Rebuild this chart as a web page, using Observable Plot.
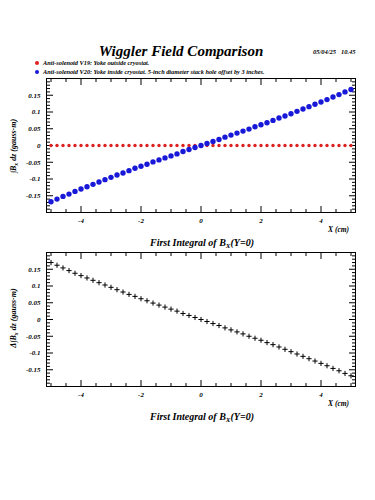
<!DOCTYPE html>
<html>
<head>
<meta charset="utf-8">
<script src="https://cdn.jsdelivr.net/npm/d3@7"></script>
<script src="https://cdn.jsdelivr.net/npm/@observablehq/plot@0.6"></script>
<style>
  body { margin: 0; background: #fff; }
  #page { position: relative; width: 375px; height: 500px; background: #fff; overflow: hidden;
          font-family: "Liberation Serif", "DejaVu Serif", serif; font-style: italic; font-weight: bold; color: #000; }
  .abs { position: absolute; white-space: nowrap; }
  .rot { transform: translate(-50%, -50%) rotate(-90deg); }
  sub { font-size: 0.7em; vertical-align: -0.25em; }
</style>
</head>
<body>
<div id="page">
  <div id="p1" class="abs" style="left:0;top:70px"></div>
  <div id="p2" class="abs" style="left:0;top:244px"></div>

  <div class="abs" style="left:181px;top:43px;font-size:15px;line-height:16px;transform:translateX(-50%)">Wiggler Field Comparison</div>
  <div class="abs" style="left:313px;top:48px;font-size:6.5px;line-height:7px">05/04/25&nbsp;&nbsp;&nbsp;10.45</div>
  <div class="abs" style="left:35px;top:61px;width:4px;height:4px;border-radius:2px;background:#dd2020"></div>
  <div class="abs" style="left:43px;top:59px;font-size:6.3px;line-height:7px">Anti-solenoid V19: Yoke outside cryostat.</div>
  <div class="abs" style="left:35px;top:70px;width:4px;height:4px;border-radius:2px;background:#1818d8"></div>
  <div class="abs" style="left:43px;top:68px;font-size:6.3px;line-height:7px">Anti-solenoid V20: Yoke inside cryostat. 5-inch diameter stack hole offset by 3 inches.</div>

  <div class="abs rot" style="left:14px;top:146px;font-size:8px">∫B<sub>x</sub> dz (gauss-m)</div>
  <div class="abs" style="left:328px;top:226px;font-size:7.5px;line-height:8px">X (cm)</div>
  <div class="abs" style="left:202px;top:237px;font-size:10px;line-height:11px;transform:translateX(-50%)">First Integral of B<sub>X</sub>(Y=0)</div>

  <div class="abs rot" style="left:14px;top:318px;font-size:8px">Δ∫B<sub>x</sub> dz (gauss-m)</div>
  <div class="abs" style="left:328px;top:400px;font-size:7.5px;line-height:8px">X (cm)</div>
  <div class="abs" style="left:202px;top:411px;font-size:10px;line-height:11px;transform:translateX(-50%)">First Integral of B<sub>X</sub>(Y=0)</div>
</div>
<script>
// ---- data ----
const xPos = [-5,-4.8,-4.6,-4.4,-4.2,-4,-3.8,-3.6,-3.4,-3.2,-3,-2.8,-2.6,-2.4,-2.2,-2,-1.8,-1.6,-1.4,-1.2,-1,-0.8,-0.6,-0.4,-0.2,0,
              0.2,0.4,0.6,0.8,1,1.2,1.4,1.6,1.8,2,2.2,2.4,2.6,2.8,3,3.2,3.4,3.6,3.8,4,4.2,4.4,4.6,4.8,5];
const v19 = new Array(51).fill(0);
const v20 = [-0.168,-0.160,-0.152,-0.145,-0.137,-0.130,-0.123,-0.116,-0.109,-0.102,-0.095,-0.088,-0.082,-0.075,-0.068,-0.062,-0.056,-0.049,-0.043,-0.037,-0.031,-0.025,-0.018,-0.012,-0.006,0.000,
             0.006,0.012,0.018,0.025,0.031,0.037,0.043,0.049,0.056,0.062,0.068,0.075,0.082,0.088,0.095,0.102,0.109,0.116,0.123,0.130,0.137,0.145,0.152,0.160,0.167];
const diff = [0.170,0.162,0.154,0.146,0.138,0.131,0.124,0.117,0.110,0.103,0.096,0.089,0.082,0.075,0.069,0.062,0.056,0.049,0.043,0.037,0.031,0.025,0.018,0.012,0.006,0.000,
              -0.006,-0.012,-0.018,-0.025,-0.031,-0.037,-0.043,-0.050,-0.056,-0.062,-0.069,-0.075,-0.082,-0.089,-0.096,-0.103,-0.110,-0.117,-0.124,-0.131,-0.138,-0.146,-0.153,-0.161,-0.168];
const xMajor = [-4,-2,0,2,4];
const xLabels = ["-4","-2","0","2","4"];
const xMinor = [-5,-4.5,-3.5,-3,-2.5,-1.5,-1,-0.5,0.5,1,1.5,2.5,3,3.5,4.5,5];
const yMajor = [-0.15,-0.1,-0.05,0,0.05,0.1,0.15];
const yLabels = ["-0.15","-0.1","-0.05","0","0.05","0.1","0.15"];
const yMinor = d3.range(-20,21).map(i => i/100).filter(v => Math.round(v*100) % 5 !== 0);
const xDomain = [-5.15, 5.15];
const yDomain = [-0.2, 0.2];

const topData = xPos.map((x,i) => ({x, v19: v19[i], v20: v20[i]}));
const botData = xPos.map((x,i) => ({x, d: diff[i]}));

function frameTicks() {
  const fmtX = d => xLabels[xMajor.indexOf(d)];
  const fmtY = d => yLabels[yMajor.findIndex(v => Math.abs(v-d) < 1e-9)];
  return [
    Plot.frame({stroke: "black", strokeWidth: 1}),
    Plot.axisX({anchor: "bottom", ticks: xMajor, tickSize: 6, dy: -6, text: null, label: null}),
    Plot.axisX({anchor: "bottom", ticks: xMinor, tickSize: 3, dy: -3, text: null, label: null}),
    Plot.axisX({anchor: "top", ticks: xMajor, tickSize: 6, dy: 6, text: null, label: null}),
    Plot.axisX({anchor: "top", ticks: xMinor, tickSize: 3, dy: 3, text: null, label: null}),
    Plot.axisX({anchor: "bottom", ticks: xMajor, tickSize: 0, tickPadding: 6, tickFormat: fmtX, label: null}),
    Plot.axisY({anchor: "left", ticks: yMajor, tickSize: 7, dx: 7, text: null, label: null}),
    Plot.axisY({anchor: "left", ticks: yMinor, tickSize: 4, dx: 4, text: null, label: null}),
    Plot.axisY({anchor: "right", ticks: yMajor, tickSize: 7, dx: -7, text: null, label: null}),
    Plot.axisY({anchor: "right", ticks: yMinor, tickSize: 4, dx: -4, text: null, label: null}),
    Plot.axisY({anchor: "left", ticks: yMajor, tickSize: 0, tickPadding: 6, tickFormat: fmtY, label: null})
  ];
}

const common = {
  width: 375, height: 180,
  marginLeft: 46, marginRight: 20, marginTop: 8, marginBottom: 38,
  x: {domain: xDomain, label: null},
  y: {domain: yDomain, label: null},
  style: {fontFamily: "Liberation Serif", fontStyle: "italic", fontWeight: "bold", fontSize: "7px", background: "transparent", overflow: "visible"}
};

const p1 = Plot.plot({
  ...common,
  marks: [
    ...frameTicks(),
    Plot.dot(topData, {x: "x", y: "v19", r: 1.7, fill: "#dd2020", stroke: "none"}),
    Plot.dot(topData, {x: "x", y: "v20", r: 2.7, fill: "#1818d8", stroke: "none"})
  ]
});
document.getElementById("p1").appendChild(p1);

const p2 = Plot.plot({
  ...common,
  marks: [
    ...frameTicks(),
    Plot.dot(botData, {x: "x", y: "d", r: 1.8, symbol: "plus", stroke: "black", strokeWidth: 1})
  ]
});
document.getElementById("p2").appendChild(p2);
</script>
</body>
</html>
